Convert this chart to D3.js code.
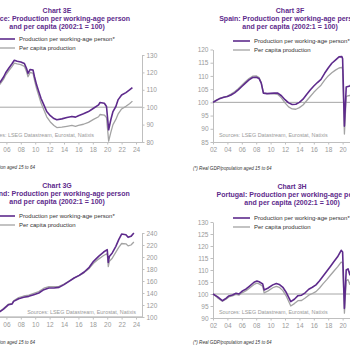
<!DOCTYPE html>
<html>
<head>
<meta charset="utf-8">
<script src="https://cdn.jsdelivr.net/npm/d3@7"></script>
<style>
  html, body { margin: 0; padding: 0; background: #fff; overflow: hidden; }
  svg { display: block; font-family: "Liberation Sans", Arial, sans-serif; }
</style>
</head>
<body>
<svg id="drawing_region" width="350" height="350"></svg>
<script>
// ---- data (2002:1 = 100) ----
const legendLabels = ['Production per working-age person*', 'Per capita production'];
const sourceText = 'Sources: LSEG Datastream, Eurostat, Natixis';
const footText = '(*) Real GDP/population aged 15 to 64';
const yearTicks = [2002, 2004, 2006, 2008, 2010, 2012, 2014, 2016, 2018, 2020, 2022, 2024];

// Chart 3E - Greece
const greeceYears = [2002, 2003, 2004, 2005.17, 2005.63, 2005.9, 2006.3, 2006.8, 2007.1, 2007.5,
  2008.0, 2008.5, 2008.8, 2009.0, 2009.3, 2009.7, 2009.9, 2010.2, 2010.5, 2010.8,
  2011.2, 2011.6, 2012.1, 2012.6, 2013.0, 2013.7, 2014.4, 2015.1, 2015.6, 2016.0,
  2016.7, 2017.4, 2018.1, 2018.8, 2019.0, 2019.6, 2019.9, 2020.2, 2020.5, 2020.8,
  2021.2, 2021.5, 2022.0, 2022.6, 2023.1, 2023.5];
const greeceWorking = [100, 104.5, 110, 114.6, 117.5, 119.8, 122.2, 125.1, 127, 126.4,
  126, 125.1, 122.2, 119.4, 121.7, 121.3, 117.5, 112.7, 108.9, 105.1,
  101.3, 97.5, 95.1, 93.5, 92.8, 93.3, 94.1, 94.7, 94.3, 95.1,
  96.2, 97.5, 99.4, 101.3, 102.7, 102.3, 100.4, 87, 92.8, 97.5,
  100.4, 104.2, 107, 108.4, 109.9, 111.2];
const greeceCapita = [100, 104, 109.3, 113.5, 116.3, 118.5, 120.8, 123.5, 125.3, 124.9,
  124.5, 123.5, 120.3, 117.5, 120, 119.5, 115.5, 110.5, 106.5, 102.5,
  98.5, 94.5, 91.5, 89.5, 88.3, 88.5, 89, 89.5, 89, 89.5,
  90.2, 91.3, 93, 94.5, 95.8, 95.5, 94, 80.5, 85.5, 90,
  93, 96, 99, 100.5, 102, 103.5];
const greeceTicks = [80, 90, 100, 110, 120, 130];

// Chart 3F - Spain
const spainYears = [2002, 2002.5, 2003, 2003.5, 2004, 2004.5, 2005, 2005.5, 2006, 2006.5,
  2007, 2007.5, 2008, 2008.4, 2008.7, 2009, 2009.5, 2010, 2010.5, 2011,
  2011.5, 2012, 2012.5, 2013, 2013.5, 2014, 2014.5, 2015, 2015.5, 2016,
  2016.5, 2017, 2017.5, 2018, 2018.5, 2019, 2019.5, 2019.9, 2020.0, 2020.25,
  2020.5, 2020.75, 2021, 2021.25];
const spainWorking = [100, 100.8, 101.5, 101.9, 102.2, 102.8, 103.6, 104.7, 106, 107.3,
  108.5, 109.4, 109.5, 109, 107.3, 103.5, 103.3, 103.4, 103.5, 103.5,
  102.5, 101, 99.8, 99.2, 99.3, 100, 101.2, 103, 104.7, 106.2,
  107.5, 108.7, 111, 113, 114.8, 116, 117.2, 117.3, 116.5, 91,
  105.8, 106, 106.2, 107];
const spainCapita = [100, 100.9, 101.6, 102, 102.4, 103.1, 104, 105.2, 106.5, 107.8,
  109, 109.9, 110, 109.4, 107.5, 103.6, 103.3, 103.3, 103.2, 103,
  101.7, 99.8, 98.3, 97.5, 97.4, 98, 99, 100.6, 102.2, 103.8,
  105.2, 106.5, 108.4, 110, 111.2, 112.2, 113, 113.2, 112.4, 88,
  102.2, 102.5, 102.6, 103.3];
const spainTicks = [85, 90, 95, 100, 105, 110, 115, 120];

// Chart 3G - Ireland
const irelandYears = [2002, 2003, 2004, 2005.17, 2005.6, 2006.3, 2006.8, 2007.0, 2007.7, 2008.4,
  2009.1, 2009.8, 2010.5, 2011.2, 2011.9, 2012.6, 2013.3, 2014.0, 2014.7, 2015.4,
  2016.1, 2016.8, 2017.5, 2018.1, 2018.8, 2019.5, 2020.0, 2020.15, 2020.3, 2020.7,
  2021.2, 2021.6, 2022.0, 2022.6, 2022.9, 2023.3, 2023.7];
const irelandWorking = [100, 102.5, 105.5, 109.4, 113, 120.5, 121.7, 126, 130.5, 132.8,
  134.4, 137.2, 140, 145.6, 148.3, 148.3, 149.4, 153.9, 159.4, 165,
  169.4, 175, 182.8, 192.8, 201.1, 208.3, 212.2, 191, 201, 206.7,
  217.8, 228.9, 238.3, 237.2, 232.8, 234.4, 240];
const irelandCapita = [100, 103, 106.5, 110.5, 114, 121.5, 122.5, 127, 132.5, 135,
  136.5, 139.5, 142.5, 148, 150.5, 150.5, 151, 155, 160, 165,
  169, 174, 181, 189.5, 196.5, 202.5, 205.5, 184, 193, 198,
  208, 216, 222.5, 222, 218.5, 220, 225];
const irelandTicks = [100, 120, 140, 160, 180, 200, 220, 240];

// Chart 3H - Portugal
const portugalYears = [2002, 2002.6, 2003.3, 2003.8, 2004.2, 2004.7, 2005.2, 2005.6, 2006.1, 2006.6,
  2007.0, 2007.7, 2008.1, 2008.4, 2008.9, 2009.1, 2009.6, 2010.3, 2010.8, 2011.2,
  2011.7, 2012.2, 2012.8, 2013.3, 2013.8, 2014.3, 2014.8, 2015.3, 2015.8, 2016.3,
  2016.8, 2017.3, 2017.8, 2018.3, 2018.8, 2019.3, 2019.8, 2020.0, 2020.25, 2020.5,
  2020.75, 2021.0, 2021.25];
const portugalWorking = [100, 98.9, 97.2, 98.2, 99.2, 99.6, 100.3, 100, 101.3, 102.1,
  103.1, 104.9, 105.4, 105.1, 104.2, 101.7, 102.4, 103.8, 104.4, 104,
  102.8, 100.5, 96.8, 97.8, 99.3, 99.5, 100.5, 102, 102.8, 103.8,
  105.5, 107.5, 109.5, 111.5, 113.5, 115.5, 118.2, 117.5, 94, 110,
  110.5, 108, 111];
const portugalCapita = [100, 98.5, 97, 97.8, 98.8, 99.2, 99.8, 99.5, 100.6, 101.4,
  102.3, 104, 104.5, 104.2, 103.3, 100.5, 101.2, 102.6, 103.2, 102.8,
  101.4, 99, 95, 96, 97.2, 97.3, 98.3, 99.5, 100.2, 101,
  102.5, 104.3, 106, 107.8, 109.6, 111.3, 113.3, 113, 92, 105.5,
  106, 104, 106];
const portugalTicks = [90, 95, 100, 105, 110, 115, 120, 125, 130];

// ---- styling ----
const purple = '#5e2b8c';
const grey = '#a3a3a3';
const axisGrey = '#bfbfbf';
const labelGrey = '#9a9a9a';

const svg = d3.select('#drawing_region');

const panels = [
  { title: ['Chart 3E', 'Greece: Production per working-age person', 'and per capita (2002:1 = 100)'],
    cx: 57, ty: 12.5, legX: -2, legY: 39, x0: -22.4, yb: 142, yt: 55, side: 'right',
    years: greeceYears, working: greeceWorking, capita: greeceCapita, ticks: greeceTicks,
    srcX: 94, srcY: 137, srcAnchor: 'end', footX: 35, footY: 169, footAnchor: 'end' },
  { title: ['Chart 3F', 'Spain: Production per working-age person', 'and per capita (2002:1 = 100)'],
    cx: 290, ty: 12.5, legX: 233, legY: 41, x0: 213, yb: 142, yt: 49.5, side: 'left',
    years: spainYears, working: spainWorking, capita: spainCapita, ticks: spainTicks,
    srcX: 219, srcY: 137, srcAnchor: 'start', footX: 193, footY: 170, footAnchor: 'start' },
  { title: ['Chart 3G', 'Ireland: Production per working-age person', 'and per capita (2002:1 = 100)'],
    cx: 57, ty: 187.5, legX: -2, legY: 216, x0: -22.4, yb: 317, yt: 233, side: 'right',
    years: irelandYears, working: irelandWorking, capita: irelandCapita, ticks: irelandTicks,
    srcX: 136, srcY: 314, srcAnchor: 'end', footX: 35, footY: 344, footAnchor: 'end' },
  { title: ['Chart 3H', 'Portugal: Production per working-age person', 'and per capita (2002:1 = 100)'],
    cx: 292, ty: 188.5, legX: 233, legY: 218, x0: 213, yb: 318, yt: 222, side: 'left',
    years: portugalYears, working: portugalWorking, capita: portugalCapita, ticks: portugalTicks,
    srcX: 219, srcY: 314, srcAnchor: 'start', footX: 193, footY: 344, footAnchor: 'start' }
];

panels.forEach(drawPanel);

function drawPanel(p) {
  const g = svg.append('g');
  const plotW = 164.4;

  const x = d3.scaleLinear().domain([2002, 2024.83]).range([p.x0, p.x0 + plotW]);
  const y = d3.scaleLinear().domain([p.ticks[0], p.ticks[p.ticks.length - 1]]).range([p.yb, p.yt]);

  // titles
  g.selectAll('text.title').data(p.title).enter()
    .append('text')
    .attr('x', p.cx)
    .attr('y', (d, i) => p.ty + i * 8.3)
    .attr('text-anchor', 'middle')
    .attr('font-size', 7)
    .attr('font-weight', 'bold')
    .attr('fill', purple)
    .text(d => d);

  // legend
  const legColors = [purple, grey];
  legendLabels.forEach((lab, i) => {
    const ly = p.legY + i * 9;
    g.append('line')
      .attr('x1', p.legX).attr('x2', p.legX + 17)
      .attr('y1', ly).attr('y2', ly)
      .attr('stroke', legColors[i])
      .attr('stroke-width', i === 0 ? 1.6 : 1.3);
    g.append('text')
      .attr('x', p.legX + 21)
      .attr('y', ly + 2.1)
      .attr('font-size', 6)
      .attr('fill', '#333')
      .text(lab);
  });

  // 100 reference line
  g.append('line')
    .attr('x1', x.range()[0]).attr('x2', x.range()[1])
    .attr('y1', y(100)).attr('y2', y(100))
    .attr('stroke', '#a6a6a6')
    .attr('stroke-width', 1);

  // axes
  const xAxis = d3.axisBottom(x)
    .tickValues(yearTicks)
    .tickFormat(d => String(d).slice(2))
    .tickSize(2.5)
    .tickPadding(2.5)
    .tickSizeOuter(0);
  const xg = g.append('g')
    .attr('transform', `translate(0, ${p.yb})`)
    .call(xAxis);

  const yAxis = (p.side === 'right' ? d3.axisRight(y) : d3.axisLeft(y))
    .tickValues(p.ticks)
    .tickSize(2.5)
    .tickPadding(2)
    .tickSizeOuter(0);
  const yx = p.side === 'right' ? x.range()[1] : x.range()[0];
  const yg = g.append('g')
    .attr('transform', `translate(${yx}, 0)`)
    .call(yAxis);

  [xg, yg].forEach(ax => {
    ax.select('.domain').attr('stroke', axisGrey);
    ax.selectAll('.tick line').attr('stroke', axisGrey);
    ax.selectAll('.tick text')
      .attr('fill', labelGrey)
      .attr('font-size', 6.5)
      .attr('font-family', '"Liberation Sans", Arial, sans-serif');
  });

  // series
  const line = d3.line()
    .x(d => x(d[0]))
    .y(d => y(d[1]));

  g.append('path')
    .datum(d3.zip(p.years, p.capita))
    .attr('fill', 'none')
    .attr('stroke', grey)
    .attr('stroke-width', 1.3)
    .attr('stroke-linejoin', 'round')
    .attr('d', line);

  g.append('path')
    .datum(d3.zip(p.years, p.working))
    .attr('fill', 'none')
    .attr('stroke', purple)
    .attr('stroke-width', 1.6)
    .attr('stroke-linejoin', 'round')
    .attr('d', line);

  // source
  g.append('text')
    .attr('x', p.srcX)
    .attr('y', p.srcY)
    .attr('text-anchor', p.srcAnchor)
    .attr('font-size', 5.4)
    .attr('fill', labelGrey)
    .text(sourceText);

  // footnote
  g.append('text')
    .attr('x', p.footX)
    .attr('y', p.footY)
    .attr('text-anchor', p.footAnchor)
    .attr('font-size', 4.6)
    .attr('font-style', 'italic')
    .attr('fill', '#333')
    .text(footText);
}
</script>
</body>
</html>
